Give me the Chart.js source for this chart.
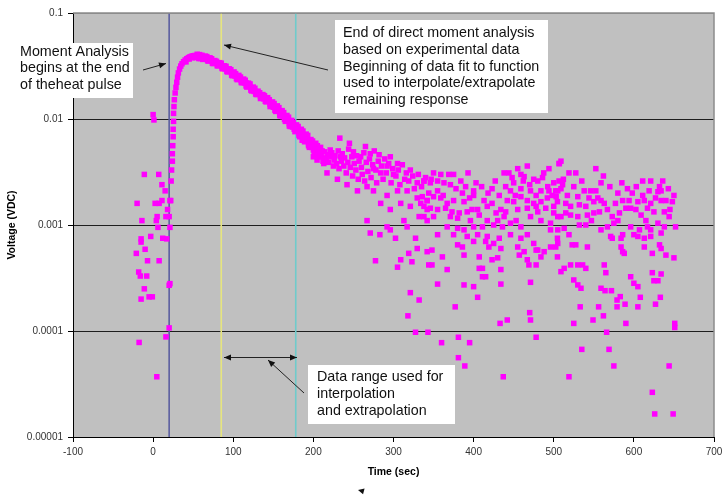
<!DOCTYPE html>
<html>
<head>
<meta charset="utf-8">
<script src="https://cdn.jsdelivr.net/npm/chart.js@4.4.1/dist/chart.umd.min.js"></script>
<style>
  html, body { margin: 0; padding: 0; background: #fff; }
  canvas { display: block; }
</style>
</head>
<body>
<canvas id="chart" width="722" height="497"></canvas>
<script>
// ---- Data: [time (sec), voltage (VDC)] ----
const voltageTicks = [0.00001, 0.0001, 0.001, 0.01, 0.1];
const voltageTickLabels = ["0.00001", "0.0001", "0.001", "0.01", "0.1"];
const markerTimes = [20, 85, 178];

// before / during the heat pulse
const prePulse = [
  [-11,0.0030],[7,0.0030],[11,0.0024],[15,0.0021],[-20,0.0016],[2.5,0.0016],[7.5,0.0016],[11,0.0017],
  [21,0.0017],[18,0.0014],[5,0.0012],[4,0.0011],[16,0.0012],[20,0.0012],[-14,0.0011],[6,0.00095],
  [21,0.00095],[-3,0.00078],[-15,0.00074],[-15,0.00069],[12,0.00075],[17,0.00074],[-10,0.00059],
  [-21,0.00054],[-7,0.00046],[7.5,0.00046],[-18,0.00036],[-16,0.00033],[-8,0.00033],[20,0.00027],
  [21,0.00028],[-11,0.00025],[-15,0.00020],[-5,0.00021],[-1,0.00021],[20,0.000107],[16,0.000088],
  [-17.5,0.000078],[4.6,0.000037],[0,0.011],[1,0.0098]
];

// steep rise and peak
const rise = [
  [22,0.0017],[22.5,0.0026],[23,0.0033],[24,0.0040],[24,0.0047],[24.5,0.0056],[25,0.0068],[25,0.0080],
  [25.5,0.0095],[25.5,0.0113],[26,0.0131],[26.5,0.0152],[27.5,0.0176],[28.5,0.0199],[29.5,0.0222],
  [30.5,0.0248],[31.5,0.0272],[33,0.0296],[34.5,0.0316],[36,0.0332],[38,0.0347],[40,0.0360],[42,0.0370],
  [44,0.0379],[46,0.0386],[48,0.0391],[50,0.0395],[52,0.0397],[54,0.0396],[56,0.0393],[58,0.0390],
  [41,0.0346],[45,0.0368],[49,0.0378],[53,0.0380],[55,0.0408],[59,0.0372]
];

// decay band, three interleaved rows
const decayRowA = [
  [60,0.0391],[62,0.0382],[64,0.0381],[66,0.0374],[68,0.0372],[70,0.0362],[72,0.0359],[74,0.0349],
  [76,0.0347],[78,0.0336],[80,0.0335],[82,0.0325],[84,0.0326],[86,0.0312],[88,0.0311],[90,0.0297],
  [92,0.0296],[94,0.0283],[96,0.0282],[98,0.0269],[100,0.0268],[102,0.0255],[104,0.0254],[106,0.0242],
  [108,0.0242],[110,0.0230],[112,0.0231],[114,0.0219],[116,0.0219],[118,0.0207],[120,0.0206],[122,0.0194],
  [124,0.0194],[126,0.0182],[128,0.0182],[130,0.0171],[132,0.0172],[134,0.0163],[136,0.0165],[138,0.0155],
  [140,0.0157],[142,0.0148],[144,0.0149],[146,0.0138],[148,0.0139],[150,0.0129],[152,0.0131],[154,0.0121],
  [156,0.0123],[158,0.0113],[160,0.0115],[162,0.0105],[164,0.0107],[166,0.0097],[168,0.0100],[170,0.0090],
  [172,0.0093],[174,0.0084],[176,0.0087],[178,0.0078],[180,0.0082],[182,0.0073],[184,0.0076],[186,0.0068],
  [188,0.0071],[190,0.0062],[192,0.0066],[194,0.0058],[196,0.0062],[198,0.0054],[200,0.0058],[202,0.0050],
  [204,0.0054],[206,0.0047],[208,0.0051],[210,0.0044]
];
const decayRowB = [
  [57,0.0372],[61,0.0399],[63,0.0366],[67,0.0388],[69,0.0352],[73,0.0370],[75,0.0333],[79,0.0350],
  [81,0.0318],[85,0.0336],[87,0.0298],[91,0.0314],[93,0.0278],[97,0.0292],[99,0.0256],[103,0.0268],
  [105,0.0235],[109,0.0249],[111,0.0220],[115,0.0232],[117,0.0200],[121,0.0214],[123,0.0184],[127,0.0195],
  [129,0.0170],[133,0.0177],[135,0.0157],[139,0.0166],[141,0.0145],[145,0.0152],[147,0.0132],[151,0.0140],
  [153,0.0118],[157,0.0128],[159,0.0107],[163,0.0115],[165,0.0095],[169,0.0104],[171,0.0085],[175,0.0093],
  [177,0.0076],[181,0.0085],[183,0.0068],[187,0.0077],[189,0.0061],[193,0.0070],[195,0.0054],[199,0.0062],
  [201,0.0048],[205,0.0056],[207,0.0044],[211,0.0050],[213,0.0042]
];
const decayRowC = [
  [58,0.0405],[62,0.0365],[65,0.0392],[68,0.0355],[71,0.0378],[74,0.0336],[77,0.0356],[80,0.0318],
  [83,0.0340],[86,0.0300],[89,0.0318],[92,0.0281],[95,0.0298],[98,0.0259],[101,0.0278],[104,0.0240],
  [107,0.0258],[110,0.0221],[113,0.0238],[116,0.0205],[119,0.0218],[122,0.0187],[125,0.0200],[128,0.0172],
  [131,0.0183],[134,0.0156],[137,0.0170],[140,0.0147],[143,0.0159],[146,0.0131],[149,0.0145],[152,0.0121],
  [155,0.0133],[158,0.0108],[161,0.0120],[164,0.0099],[167,0.0108],[170,0.0086],[173,0.0097],[176,0.0080],
  [179,0.0088],[182,0.0070],[185,0.0080],[188,0.0064],[191,0.0072],[194,0.0056],[197,0.0064],[200,0.0051],
  [203,0.0059],[206,0.0045],[209,0.0054],[212,0.0040]
];

// spreading band 185-350 s
const midTail = [
  [186,0.0071],[186,0.0063],[200,0.0044],[204.6,0.0055],[204.6,0.0041],[209,0.0047],[213,0.0038],[217,0.0031],
  [221,0.0051],[225,0.0036],[230,0.0027],[233,0.0066],[234,0.0044],[242,0.0024],[245,0.0059],[250,0.0049],
  [255,0.0021],[259,0.0044],[265,0.0055],[267,0.0023],[271,0.0047],[275,0.0034],[275,0.0021],[282,0.0046],
  [284,0.0031],[292,0.0036],[292,0.0019],[296,0.0044],[300,0.0030],[305,0.0038],[305,0.0021],[317,0.0021],
  [321,0.0033],[329.6,0.0025],[329.6,0.0018],[338,0.0026],[342,0.0017],[284,0.0016],[296,0.0014],[309,0.0016],
  [321,0.0015],[334,0.0016],[342,0.0014],[267,0.0011],[313,0.0011],[332,0.0012],[342,0.0011],[271,0.00084],
  [283,0.00081],[292,0.00096],[296,0.0009],[302.5,0.00075],[317,0.00096],[327.5,0.00075],[329.6,0.0006],
  [319,0.00054],[277.5,0.00046],[309,0.00047],[305,0.0004],[323,0.00045],[342,0.00056],[344,0.00042],
  [214,0.0049],[216,0.0043],[218,0.0046],[219,0.0039],[222,0.0044],[223,0.0048],[226,0.0041],[227,0.0045],
  [229,0.0038],[231,0.0050],[232,0.0034],[235,0.0040],[236,0.0047],[238,0.0036],[239,0.0043],[241,0.0031],
  [243,0.0039],[244,0.0052],[246,0.0035],[248,0.0044],[249,0.0029],[251,0.0038],[253,0.0033],[254,0.0045],
  [256,0.0027],[257,0.0040],[260,0.0035],[261,0.0030],[263,0.0048],[264,0.0026],[266,0.0039],[268,0.0032],
  [270,0.0042],[272,0.0028],[274,0.0037],[276,0.0050],[278,0.0033],[279,0.0025],[281,0.0040],[285,0.0036],
  [287,0.0027],[289,0.0042],[291,0.0031],[294,0.0038],[297,0.0025],[299,0.0034],[303,0.0029],[306,0.0033],
  [308,0.0024],[311,0.0037],[314,0.0027],[316,0.0031],[319,0.0026],[324,0.0029],[326,0.0022],[331,0.0030],
  [335,0.0023],[340,0.0028],[344,0.0020],[347,0.0027]
];

// noisy tail 335-510 s
const tailA = [
  [350,0.0031],[359,0.0030],[369,0.0030],[375,0.0030],[393,0.0031],
  [338,0.0026],[346,0.0025],[355,0.0026],[363,0.0025],[371,0.0024],[384,0.0026],[390,0.0023],[400,0.0021],
  [336,0.00185],[342,0.0017],[350,0.00185],[359,0.0018],[367,0.0016],[375,0.0017],[388,0.00166],[400,0.0019],
  [413,0.0017],[423,0.0022],
  [338,0.0015],[346,0.00144],[355,0.0014],[365,0.00144],[373,0.00133],[382,0.0013],[392,0.00133],[405,0.0014],
  [417,0.0015],[423,0.0016],[434,0.0014],
  [338,0.0012],[350,0.0012],[371,0.0012],[380,0.00116],[396,0.0011],[407,0.00124],[417,0.0011],[430,0.0011],
  [438,0.0012],
  [367,0.00096],[380,0.00093],[388,0.0009],[400,0.00096],[411,0.00096],[425,0.0010],[436,0.00096],[446,0.00104],
  [459,0.00096],
  [355,0.00081],[375,0.00081],[392,0.00078],[405,0.00081],[417,0.00078],[432,0.00075],[446,0.00081],[459,0.00075],
  [467,0.00081],
  [380,0.00065],[386,0.00062],[400,0.0007],[415,0.0007],[419,0.00062],[425,0.00067],[434,0.0006],
  [348,0.00058],[361,0.0005],[388,0.00052],[407,0.0005],[423,0.00047],[430,0.00049],[457,0.00052],[467,0.00047],
  [478,0.00058],[484,0.0005],
  [348,0.00042],[367,0.00038],[407,0.00039],[411,0.00039],[434,0.00038],[469,0.00042],[478,0.00042],
  [438,0.0031],[444,0.0031],[455,0.0034],[467,0.0036],[459,0.0030],[463,0.00286],[475,0.0027],[480,0.0026],
  [450,0.0025],[446,0.0021],[459,0.0022],[471,0.0021],[484,0.0021],[494,0.0021],[505,0.0021],[494,0.0034],
  [507,0.0038],[487.5,0.0031],[492.5,0.0023],
  [442,0.0017],[450,0.00166],[459,0.00185],[467,0.0017],[475,0.0016],[484,0.00166],[492,0.0018],[503,0.00185],
  [440,0.00133],[455,0.0014],[467,0.00144],[480,0.00133],[490,0.00144],[500,0.0015],
  [505,0.0012],[471,0.0012],[484,0.0011],[496,0.00104],[505,0.0009],
  [455,0.00062],[463,0.00056],[475,0.00067],[480,0.00058],[488,0.00056],[496,0.00062],[505,0.00067]
];

// noisy tail 495-652 s
const tailB = [
  [506.6,0.0038],[509,0.0040],[519,0.0031],[527.5,0.0031],[552.5,0.0034],
  [500,0.0025],[506.6,0.0026],[511,0.0024],[502.5,0.0021],[509,0.0022],[538,0.0021],[552.5,0.0021],[559,0.0025],
  [530,0.00185],[544,0.0018],[550,0.00166],[559,0.0017],[563,0.0016],[504.6,0.00166],[515,0.0016],[521,0.0015],
  [532,0.00155],[540,0.0015],
  [500,0.0013],[509,0.0012],[521,0.00124],[530,0.0012],[542,0.00124],[550,0.0013],[557,0.00133],[567,0.0014],
  [573,0.0012],[580,0.0011],
  [496,0.0009],[513,0.00093],[532,0.0010],[540,0.0010],[504.6,0.00075],[519,0.00081],[559,0.0009],[567,0.00096],
  [575,0.00104],
  [502.5,0.00062],[523,0.00065],[527.5,0.00065],[542,0.00062],[504.6,0.0005],[571,0.00078],[573,0.00075],
  [584,0.00075],[584,0.00062],[588,0.00054],
  [513,0.00039],[521,0.00042],[530,0.00042],[536,0.00042],[540,0.00039],[563,0.00042],
  [580,0.0020],[592,0.0022],[611,0.0026],[621,0.0026],[632,0.0023],[634,0.0021],[630,0.00206],[634,0.0017],
  [586,0.0017],[594,0.0017],[605,0.00166],[613,0.0017],[621,0.0016],[640,0.0017],[648,0.00166],
  [590,0.00144],[596,0.00144],[602.5,0.0014],[609,0.00124],[617,0.00144],[625,0.00133],[638,0.00133],[644,0.0012],
  [596,0.00096],[607,0.0009],[617,0.00096],[621,0.0009],[630,0.00104],[638,0.00096],[652,0.00096],
  [586,0.00081],[600,0.00081],[605,0.00078],[613,0.00075],[621,0.00078],[634,0.00084],
  [586,0.00056],[613,0.00062],[632,0.00065],[634,0.0006],[623,0.00054],[640,0.00052],[650,0.00049]
];

// extra points in the busy part of the tail band
const tailBand = [
  [355,0.0021],[362,0.0019],[378,0.0022],[386,0.0020],[395,0.0018],[403,0.0025],[410,0.0023],[418,0.0020],
  [427,0.0026],[432,0.0019],[440,0.0023],[448,0.0028],[452,0.0019],[462,0.0026],[470,0.0024],[478,0.0019],
  [486,0.0028],[498,0.0019],[512,0.0027],[517,0.0019],[525,0.0023],[535,0.0026],[546,0.0021],[555,0.0018],
  [562,0.0029],[570,0.0023],[577,0.0016],[585,0.0025],[598,0.0020],[603,0.0023],[611,0.0019],[619,0.0021],
  [627,0.0018],[636,0.0026],[643,0.0022],[650,0.0019],[398,0.0014],[428,0.0013],[453,0.0011],[478,0.0015],
  [515,0.0013],[547,0.0011],[582,0.0013],[615,0.0011],[645,0.0014]
];

// low outliers below ~0.0004
const lowOutliers = [
  [321,0.00023],[332,0.000196],[318,0.000139],[327.5,0.0000973],[343,0.0000973],[355,0.000277],[388,0.000272],
  [400,0.000262],[377,0.000169],[360,0.0000776],[381,0.0000873],[395,0.0000776],[381,0.000056],[389,0.0000468],
  [405,0.000208],[411,0.000325],[415,0.000325],[434,0.000277],[433,0.000118],[442,0.000127],[437,0.000037],
  [471,0.000288],[470,0.000149],[471,0.000127],[478,0.0000873],[519,0.000037],[525,0.000303],[530,0.000272],
  [534,0.000253],[533,0.000169],[525,0.000118],[535,0.0000671],[549,0.000127],[556,0.000169],[562,0.000139],
  [566,0.0000973],[569,0.0000671],[575,0.0000468],[559,0.000253],[564,0.00024],[572,0.00024],[579,0.000196],
  [583,0.000211],[579,0.000169],[589,0.000179],[590,0.000118],[596,0.000325],[600,0.000282],[605,0.000262],
  [608,0.000208],[605,0.000169],[625,0.000298],[630,0.000298],[633,0.000208],[627,0.000179],[623,0.000355],
  [634,0.000345],[651,0.000118],[651,0.000108],[644,0.0000468],[623,0.0000264],[626,0.0000165],[649,0.0000165],
  [565,0.000355],[509,0.000363]
];

// ---- Styling ----
const FONT = "'Liberation Sans', Arial, sans-serif";
const MAGENTA = "#FF00FF";
const PLOT_BG = "#C0C0C0";
const markerColors = ["#5B5EA0", "#E6E57E", "#6FCBCB"];

const toXY = (p) => ({ x: p[0], y: p[1] });
const allPoints = [].concat(prePulse, rise, decayRowA, decayRowB, decayRowC, midTail,
                            tailA, tailB, tailBand, lowOutliers).map(toXY);

// Annotation boxes and arrows (page layout, px)
const notes = [
  { box: [12, 43, 121, 55], left: 20, lines: [52, 68.5, 85],
    text: ["Moment Analysis", "begins at the end", "of theheat pulse"] },
  { box: [335, 20, 213, 93], left: 343, lines: [33.5, 50, 66.7, 83.3, 100.5],
    text: ["End of direct moment analysis", "based on experimental data", "Beginning of data fit to function",
           "used to interpolate/extrapolate", "remaining response"] },
  { box: [308, 365, 147, 59], left: 317, lines: [377.5, 394.5, 411.5],
    text: ["Data range used for", "interpolation", "and extrapolation"] },
];
const arrows = [
  { from: [143, 70], to: [166, 63.5], heads: ["end"] },
  { from: [328, 70], to: [224, 45], heads: ["end"] },
  { from: [224, 357.5], to: [297, 357.5], heads: ["start", "end"] },
  { from: [304, 393], to: [268, 360], heads: ["end"] },
];

function head(ctx, tip, tail, len, half) {
  const a = Math.atan2(tip[1] - tail[1], tip[0] - tail[0]);
  ctx.beginPath();
  ctx.moveTo(tip[0], tip[1]);
  ctx.lineTo(tip[0] - len * Math.cos(a) + half * Math.sin(a), tip[1] - len * Math.sin(a) - half * Math.cos(a));
  ctx.lineTo(tip[0] - len * Math.cos(a) - half * Math.sin(a), tip[1] - len * Math.sin(a) + half * Math.cos(a));
  ctx.closePath();
  ctx.fill();
}

const plotFrame = {
  id: "plotFrame",
  beforeDraw(chart) {
    const { ctx, chartArea: a } = chart;
    ctx.save();
    ctx.fillStyle = PLOT_BG;
    ctx.fillRect(a.left, a.top, a.right - a.left, a.bottom - a.top);
    ctx.restore();
  },
  afterDraw(chart) {
    const { ctx, chartArea: a } = chart;
    ctx.save();
    // right / top frame
    ctx.strokeStyle = "#8C8C8C";
    ctx.lineWidth = 1.5;
    ctx.beginPath();
    ctx.moveTo(a.left, a.top);
    ctx.lineTo(a.right, a.top);
    ctx.lineTo(a.right, a.bottom);
    ctx.stroke();

    // text boxes
    ctx.font = "14.3px " + FONT;
    ctx.textBaseline = "middle";
    ctx.textAlign = "left";
    notes.forEach((n) => {
      ctx.fillStyle = "#fff";
      ctx.fillRect(n.box[0], n.box[1], n.box[2], n.box[3]);
      ctx.fillStyle = "#111";
      n.text.forEach((t, i) => ctx.fillText(t, n.left, n.lines[i]));
    });

    // arrows
    ctx.strokeStyle = "#222";
    ctx.fillStyle = "#111";
    ctx.lineWidth = 1;
    arrows.forEach((ar) => {
      ctx.beginPath();
      ctx.moveTo(ar.from[0], ar.from[1]);
      ctx.lineTo(ar.to[0], ar.to[1]);
      ctx.stroke();
      if (ar.heads.includes("end")) head(ctx, ar.to, ar.from, 7, 3);
      if (ar.heads.includes("start")) head(ctx, ar.from, ar.to, 7, 3);
    });
    // stray arrowhead under the axis title
    head(ctx, [358, 490], [366, 492], 6, 3);
    ctx.restore();
  },
};

new Chart(document.getElementById("chart"), {
  type: "scatter",
  data: {
    datasets: [
      {
        label: "Voltage",
        data: allPoints,
        backgroundColor: MAGENTA,
        borderWidth: 0,
        pointStyle: "rect",
        pointRadius: 3.9,
        order: 1,
      },
    ].concat(markerTimes.map((t, i) => ({
      label: "marker" + i,
      data: [{ x: t, y: voltageTicks[0] }, { x: t, y: voltageTicks[voltageTicks.length - 1] }],
      showLine: true,
      borderColor: markerColors[i],
      borderWidth: 1.6,
      pointRadius: 0,
      order: 2,
    }))),
  },
  options: {
    responsive: false,
    animation: false,
    layout: { padding: { left: 0, right: 8, top: 13, bottom: 0 } },
    plugins: { legend: { display: false }, tooltip: { enabled: false } },
    scales: {
      x: {
        type: "linear",
        min: -100,
        max: 700,
        ticks: { stepSize: 100, color: "#333", font: { family: FONT, size: 10 }, padding: 4, maxRotation: 0 },
        grid: { drawOnChartArea: false, drawTicks: true, tickLength: 5, tickColor: "#000" },
        border: { color: "#000", width: 1 },
        title: { display: true, text: "Time (sec)", color: "#000",
                 font: { family: FONT, size: 10.5, weight: "bold" }, padding: { top: 0, bottom: 19 } },
        afterFit(s) { s.height = 60; s.paddingLeft = 0; s.paddingRight = 0; },
      },
      y: {
        type: "logarithmic",
        min: voltageTicks[0],
        max: voltageTicks[voltageTicks.length - 1],
        afterBuildTicks(s) { s.ticks = voltageTicks.map((v) => ({ value: v })); },
        ticks: { color: "#333", font: { family: FONT, size: 10 }, padding: 5,
                 callback: (v, i) => voltageTickLabels[i] },
        grid: {
          color: (c) => (c.tick && c.tick.value === 0.1 ? "#8C8C8C" : "#1E1E1E"),
          lineWidth: 1,
          tickLength: 5,
          tickColor: "#000",
        },
        border: { color: "#000", width: 1 },
        title: { display: true, text: "Voltage (VDC)", color: "#000",
                 font: { family: FONT, size: 10.5, weight: "bold" }, padding: { top: 6, bottom: 0 } },
        afterFit(s) { s.width = 73; },
      },
    },
  },
  plugins: [plotFrame],
});
</script>
</body>
</html>
